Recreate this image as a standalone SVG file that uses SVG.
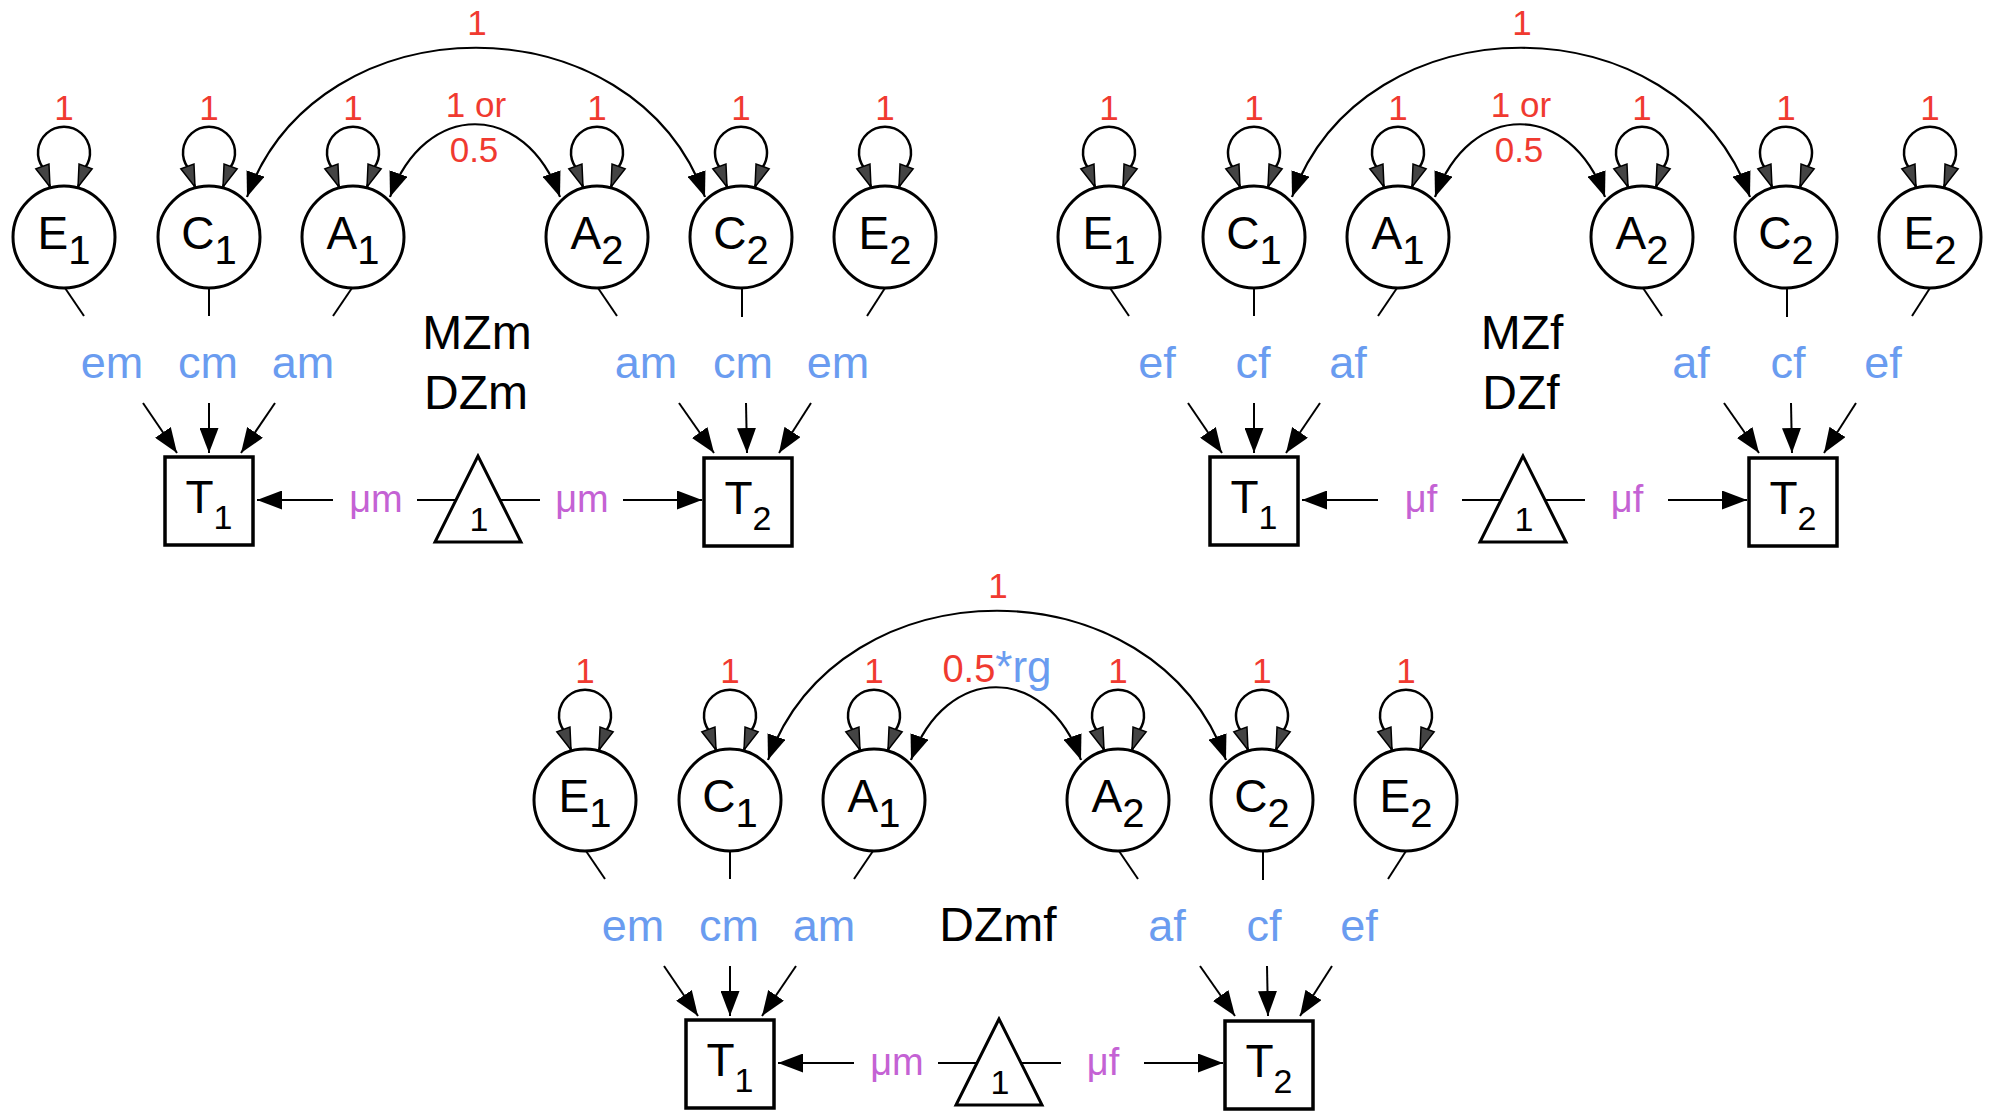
<svg xmlns="http://www.w3.org/2000/svg" width="1995" height="1111" viewBox="0 0 1995 1111">
<style>
text { font-family: "Liberation Sans", Arial, Helvetica, sans-serif; }
.lat { fill: #fff; stroke: #000; stroke-width: 3; }
.box { fill: #fff; stroke: #000; stroke-width: 3.5; }
.tri { fill: #fff; stroke: #000; stroke-width: 3; }
.nl { font-size: 46px; fill: #000; text-anchor: middle; }
.sub { font-size: 40px; }
.tsub { font-size: 34px; }
.one { font-size: 34px; fill: #000; text-anchor: middle; }
.red { font-size: 35px; fill: #f03a30; text-anchor: middle; }
.pl { font-size: 45px; fill: #6a9cf0; text-anchor: middle; }
.mu { font-size: 38px; fill: #c462d4; text-anchor: middle; }
.grp { font-size: 48px; fill: #000; text-anchor: middle; }
.ln { fill: none; stroke: #000; stroke-width: 2; }
.arr { fill: none; stroke: #000; stroke-width: 2; marker-end: url(#ah); }
.cov { fill: none; stroke: #000; stroke-width: 2.2; marker-start: url(#ah); marker-end: url(#ah); }
.loop { fill: none; stroke: #000; stroke-width: 2.5; marker-start: url(#lh); marker-end: url(#lh); }
</style>
<defs>
<marker id="ah" viewBox="0 0 25 19" markerWidth="25" markerHeight="19" refX="25" refY="9.5" orient="auto-start-reverse" markerUnits="userSpaceOnUse"><path d="M0,0 L25,9.5 L0,19 z" fill="#000"/></marker>
<marker id="lh" viewBox="-2 -2 26 18" markerWidth="26" markerHeight="18" refX="22" refY="7" orient="auto-start-reverse" markerUnits="userSpaceOnUse"><path d="M0,0 L22,7 L0,14 z" fill="#444" stroke="#000" stroke-width="1.5"/></marker>
</defs>

<!-- Panel 1: MZm / DZm -->
<g id="panel-mzm">
  <g id="mzm-nodes">
    <g id="mzm-E1"><circle class="lat" cx="64" cy="237" r="51"/><text class="nl" x="64" y="249">E<tspan class="sub" dy="15">1</tspan></text></g>
    <g id="mzm-C1"><circle class="lat" cx="209" cy="237" r="51"/><text class="nl" x="209" y="249">C<tspan class="sub" dy="15">1</tspan></text></g>
    <g id="mzm-A1"><circle class="lat" cx="353" cy="237" r="51"/><text class="nl" x="353" y="249">A<tspan class="sub" dy="15">1</tspan></text></g>
    <g id="mzm-A2"><circle class="lat" cx="597" cy="237" r="51"/><text class="nl" x="597" y="249">A<tspan class="sub" dy="15">2</tspan></text></g>
    <g id="mzm-C2"><circle class="lat" cx="741" cy="237" r="51"/><text class="nl" x="741" y="249">C<tspan class="sub" dy="15">2</tspan></text></g>
    <g id="mzm-E2"><circle class="lat" cx="885" cy="237" r="51"/><text class="nl" x="885" y="249">E<tspan class="sub" dy="15">2</tspan></text></g>
    <g id="mzm-T1"><rect class="box" x="165" y="457" width="88" height="88"/><text class="nl" x="209" y="513">T<tspan class="tsub" dy="16">1</tspan></text></g>
    <g id="mzm-T2"><rect class="box" x="704" y="458" width="88" height="88"/><text class="nl" x="748" y="514">T<tspan class="tsub" dy="16">2</tspan></text></g>
    <g id="mzm-mean"><polygon class="tri" points="478,456 435,542 521,542"/><text class="one" x="479" y="531">1</text></g>
  </g>
  <g id="mzm-connectors">
    <path class="loop" d="M50 187 L43 168 A26 26 0 1 1 85 168 L78 187"/>
    <path class="loop" d="M195 187 L188 168 A26 26 0 1 1 230 168 L223 187"/>
    <path class="loop" d="M339 187 L332 168 A26 26 0 1 1 374 168 L367 187"/>
    <path class="loop" d="M583 187 L576 168 A26 26 0 1 1 618 168 L611 187"/>
    <path class="loop" d="M727 187 L720 168 A26 26 0 1 1 762 168 L755 187"/>
    <path class="loop" d="M871 187 L864 168 A26 26 0 1 1 906 168 L899 187"/>
    <text class="red" x="64" y="120">1</text><text class="red" x="209" y="120">1</text><text class="red" x="353" y="120">1</text>
    <text class="red" x="597" y="120">1</text><text class="red" x="741" y="120">1</text><text class="red" x="885" y="120">1</text>
    <path class="cov" d="M247 197 C319 -2 633 -2 705 197"/>
    <path class="cov" d="M390 197 C425 100 525 100 560 197"/>
    <text class="red" x="477" y="35">1</text>
    <text class="red" x="476" y="117">1 or</text>
    <text class="red" x="474" y="162">0.5</text>
    <path class="ln" d="M65 288 L84 316"/><path class="arr" d="M143 403 L177 453"/>
    <path class="ln" d="M209 288 L209 316"/><path class="arr" d="M209 403 L209 453"/>
    <path class="ln" d="M352 288 L333 316"/><path class="arr" d="M275 403 L241 453"/>
    <path class="ln" d="M598 288 L617 316"/><path class="arr" d="M679 403 L714 453"/>
    <path class="ln" d="M742 288 L742 317"/><path class="arr" d="M746 403 L747 453"/>
    <path class="ln" d="M885 288 L867 316"/><path class="arr" d="M811 403 L779 453"/>
    <text class="pl" x="112" y="378">em</text><text class="pl" x="208" y="378">cm</text><text class="pl" x="303" y="378">am</text>
    <text class="pl" x="646" y="378">am</text><text class="pl" x="743" y="378">cm</text><text class="pl" x="838" y="378">em</text>
    <path class="arr" d="M333 500 L257 500"/>
    <path class="ln" d="M417 500 L456 500"/>
    <path class="ln" d="M500 500 L540 500"/>
    <path class="arr" d="M623 500 L702 500"/>
    <text class="mu" x="376" y="512">μm</text><text class="mu" x="582" y="512">μm</text>
  </g>
  <text class="grp" x="477" y="349">MZm</text>
  <text class="grp" x="476" y="409">DZm</text>
</g>

<!-- Panel 2: MZf / DZf -->
<g id="panel-mzf" transform="translate(1045,0)">
  <g id="mzf-nodes">
    <g id="mzf-E1"><circle class="lat" cx="64" cy="237" r="51"/><text class="nl" x="64" y="249">E<tspan class="sub" dy="15">1</tspan></text></g>
    <g id="mzf-C1"><circle class="lat" cx="209" cy="237" r="51"/><text class="nl" x="209" y="249">C<tspan class="sub" dy="15">1</tspan></text></g>
    <g id="mzf-A1"><circle class="lat" cx="353" cy="237" r="51"/><text class="nl" x="353" y="249">A<tspan class="sub" dy="15">1</tspan></text></g>
    <g id="mzf-A2"><circle class="lat" cx="597" cy="237" r="51"/><text class="nl" x="597" y="249">A<tspan class="sub" dy="15">2</tspan></text></g>
    <g id="mzf-C2"><circle class="lat" cx="741" cy="237" r="51"/><text class="nl" x="741" y="249">C<tspan class="sub" dy="15">2</tspan></text></g>
    <g id="mzf-E2"><circle class="lat" cx="885" cy="237" r="51"/><text class="nl" x="885" y="249">E<tspan class="sub" dy="15">2</tspan></text></g>
    <g id="mzf-T1"><rect class="box" x="165" y="457" width="88" height="88"/><text class="nl" x="209" y="513">T<tspan class="tsub" dy="16">1</tspan></text></g>
    <g id="mzf-T2"><rect class="box" x="704" y="458" width="88" height="88"/><text class="nl" x="748" y="514">T<tspan class="tsub" dy="16">2</tspan></text></g>
    <g id="mzf-mean"><polygon class="tri" points="478,456 435,542 521,542"/><text class="one" x="479" y="531">1</text></g>
  </g>
  <g id="mzf-connectors">
    <path class="loop" d="M50 187 L43 168 A26 26 0 1 1 85 168 L78 187"/>
    <path class="loop" d="M195 187 L188 168 A26 26 0 1 1 230 168 L223 187"/>
    <path class="loop" d="M339 187 L332 168 A26 26 0 1 1 374 168 L367 187"/>
    <path class="loop" d="M583 187 L576 168 A26 26 0 1 1 618 168 L611 187"/>
    <path class="loop" d="M727 187 L720 168 A26 26 0 1 1 762 168 L755 187"/>
    <path class="loop" d="M871 187 L864 168 A26 26 0 1 1 906 168 L899 187"/>
    <text class="red" x="64" y="120">1</text><text class="red" x="209" y="120">1</text><text class="red" x="353" y="120">1</text>
    <text class="red" x="597" y="120">1</text><text class="red" x="741" y="120">1</text><text class="red" x="885" y="120">1</text>
    <path class="cov" d="M247 197 C319 -2 633 -2 705 197"/>
    <path class="cov" d="M390 197 C425 100 525 100 560 197"/>
    <text class="red" x="477" y="35">1</text>
    <text class="red" x="476" y="117">1 or</text>
    <text class="red" x="474" y="162">0.5</text>
    <path class="ln" d="M65 288 L84 316"/><path class="arr" d="M143 403 L177 453"/>
    <path class="ln" d="M209 288 L209 316"/><path class="arr" d="M209 403 L209 453"/>
    <path class="ln" d="M352 288 L333 316"/><path class="arr" d="M275 403 L241 453"/>
    <path class="ln" d="M598 288 L617 316"/><path class="arr" d="M679 403 L714 453"/>
    <path class="ln" d="M742 288 L742 317"/><path class="arr" d="M746 403 L747 453"/>
    <path class="ln" d="M885 288 L867 316"/><path class="arr" d="M811 403 L779 453"/>
    <text class="pl" x="112" y="378">ef</text><text class="pl" x="208" y="378">cf</text><text class="pl" x="303" y="378">af</text>
    <text class="pl" x="646" y="378">af</text><text class="pl" x="743" y="378">cf</text><text class="pl" x="838" y="378">ef</text>
    <path class="arr" d="M333 500 L257 500"/>
    <path class="ln" d="M417 500 L456 500"/>
    <path class="ln" d="M500 500 L540 500"/>
    <path class="arr" d="M623 500 L702 500"/>
    <text class="mu" x="376" y="512">μf</text><text class="mu" x="582" y="512">μf</text>
  </g>
  <text class="grp" x="477" y="349">MZf</text>
  <text class="grp" x="476" y="409">DZf</text>
</g>

<!-- Panel 3: DZmf -->
<g id="panel-dzmf" transform="translate(521,563)">
  <g id="dzmf-nodes">
    <g id="dzmf-E1"><circle class="lat" cx="64" cy="237" r="51"/><text class="nl" x="64" y="249">E<tspan class="sub" dy="15">1</tspan></text></g>
    <g id="dzmf-C1"><circle class="lat" cx="209" cy="237" r="51"/><text class="nl" x="209" y="249">C<tspan class="sub" dy="15">1</tspan></text></g>
    <g id="dzmf-A1"><circle class="lat" cx="353" cy="237" r="51"/><text class="nl" x="353" y="249">A<tspan class="sub" dy="15">1</tspan></text></g>
    <g id="dzmf-A2"><circle class="lat" cx="597" cy="237" r="51"/><text class="nl" x="597" y="249">A<tspan class="sub" dy="15">2</tspan></text></g>
    <g id="dzmf-C2"><circle class="lat" cx="741" cy="237" r="51"/><text class="nl" x="741" y="249">C<tspan class="sub" dy="15">2</tspan></text></g>
    <g id="dzmf-E2"><circle class="lat" cx="885" cy="237" r="51"/><text class="nl" x="885" y="249">E<tspan class="sub" dy="15">2</tspan></text></g>
    <g id="dzmf-T1"><rect class="box" x="165" y="457" width="88" height="88"/><text class="nl" x="209" y="513">T<tspan class="tsub" dy="16">1</tspan></text></g>
    <g id="dzmf-T2"><rect class="box" x="704" y="458" width="88" height="88"/><text class="nl" x="748" y="514">T<tspan class="tsub" dy="16">2</tspan></text></g>
    <g id="dzmf-mean"><polygon class="tri" points="478,456 435,542 521,542"/><text class="one" x="479" y="531">1</text></g>
  </g>
  <g id="dzmf-connectors">
    <path class="loop" d="M50 187 L43 168 A26 26 0 1 1 85 168 L78 187"/>
    <path class="loop" d="M195 187 L188 168 A26 26 0 1 1 230 168 L223 187"/>
    <path class="loop" d="M339 187 L332 168 A26 26 0 1 1 374 168 L367 187"/>
    <path class="loop" d="M583 187 L576 168 A26 26 0 1 1 618 168 L611 187"/>
    <path class="loop" d="M727 187 L720 168 A26 26 0 1 1 762 168 L755 187"/>
    <path class="loop" d="M871 187 L864 168 A26 26 0 1 1 906 168 L899 187"/>
    <text class="red" x="64" y="120">1</text><text class="red" x="209" y="120">1</text><text class="red" x="353" y="120">1</text>
    <text class="red" x="597" y="120">1</text><text class="red" x="741" y="120">1</text><text class="red" x="885" y="120">1</text>
    <path class="cov" d="M247 197 C319 -2 633 -2 705 197"/>
    <path class="cov" d="M390 197 C425 100 525 100 560 197"/>
    <text class="red" x="477" y="35">1</text>
    <text x="476" y="119" text-anchor="middle"><tspan fill="#f03a30" font-size="38">0.5</tspan><tspan fill="#6a9cf0" font-size="44">*rg</tspan></text>
    <path class="ln" d="M65 288 L84 316"/><path class="arr" d="M143 403 L177 453"/>
    <path class="ln" d="M209 288 L209 316"/><path class="arr" d="M209 403 L209 453"/>
    <path class="ln" d="M352 288 L333 316"/><path class="arr" d="M275 403 L241 453"/>
    <path class="ln" d="M598 288 L617 316"/><path class="arr" d="M679 403 L714 453"/>
    <path class="ln" d="M742 288 L742 317"/><path class="arr" d="M746 403 L747 453"/>
    <path class="ln" d="M885 288 L867 316"/><path class="arr" d="M811 403 L779 453"/>
    <text class="pl" x="112" y="378">em</text><text class="pl" x="208" y="378">cm</text><text class="pl" x="303" y="378">am</text>
    <text class="pl" x="646" y="378">af</text><text class="pl" x="743" y="378">cf</text><text class="pl" x="838" y="378">ef</text>
    <path class="arr" d="M333 500 L257 500"/>
    <path class="ln" d="M417 500 L456 500"/>
    <path class="ln" d="M500 500 L540 500"/>
    <path class="arr" d="M623 500 L702 500"/>
    <text class="mu" x="376" y="512">μm</text><text class="mu" x="582" y="512">μf</text>
  </g>
  <text class="grp" x="477" y="378">DZmf</text>
</g>
</svg>
